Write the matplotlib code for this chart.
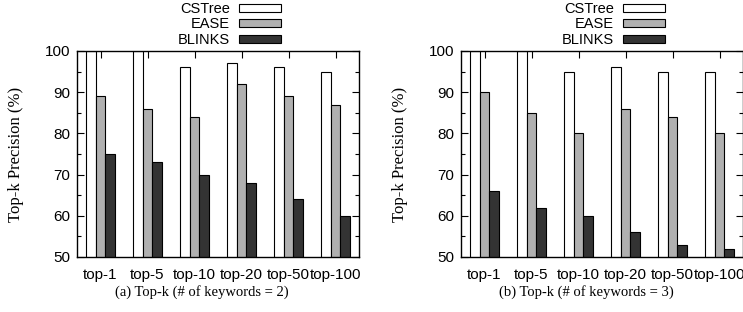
import matplotlib
matplotlib.use("Agg")
import matplotlib.pyplot as plt
from matplotlib.patches import Rectangle
from matplotlib.ticker import MultipleLocator
import numpy as np

categories = ["top-1", "top-5", "top-10", "top-20", "top-50", "top-100"]
series_names = ["CSTree", "EASE", "BLINKS"]
kw2_cstree = [100, 100, 96, 97, 96, 95]
kw2_ease = [89, 86, 84, 92, 89, 87]
kw2_blinks = [75, 73, 70, 68, 64, 60]
kw3_cstree = [100, 100, 95, 96, 95, 95]
kw3_ease = [90, 85, 80, 86, 84, 80]
kw3_blinks = [66, 62, 60, 56, 53, 52]
captions = ["(a) Top-k (# of keywords = 2)", "(b) Top-k (# of keywords = 3)"]
ylabel = "Top-k Precision (%)"

colors = ["#ffffff", "#b0b0b0", "#333333"]
edge = "#000000"
sans = ["Liberation Sans", "DejaVu Sans"]
serif = ["Liberation Serif", "DejaVu Serif"]

W, H = 743, 312
fig = plt.figure(figsize=(W / 100, H / 100), dpi=100)

def fx(px):
    return px / W

def fy(py):
    return 1 - py / H

panels = [
    (77, (kw2_cstree, kw2_ease, kw2_blinks), captions[0], 178),
    (461, (kw3_cstree, kw3_ease, kw3_blinks), captions[1], 562),
]
ax_w = 282
ax_top, ax_bot = 51, 257

for left, data, cap, leg_x in panels:
    ax = fig.add_axes([fx(left), fy(ax_bot), ax_w / W, (ax_bot - ax_top) / H])
    x = np.arange(len(categories))
    bw = 0.2
    for i, vals in enumerate(data):
        ax.bar(x + (i - 1) * bw, vals, width=bw, bottom=0, color=colors[i],
               edgecolor=edge, linewidth=0.8, zorder=2)
    ax.set_xlim(-0.5, len(categories) - 0.5)
    ax.set_ylim(50, 100)
    ax.set_xticks(x)
    ax.set_xticklabels(categories, family=sans, fontsize=11)
    ax.yaxis.set_major_locator(MultipleLocator(10))
    ax.yaxis.set_minor_locator(MultipleLocator(5))
    for lab in ax.get_yticklabels():
        lab.set_family(sans)
        lab.set_fontsize(11)
    ax.tick_params(axis="y", which="both", direction="in", left=True, right=True, pad=5)
    ax.tick_params(axis="y", which="major", length=5, width=0.8)
    ax.tick_params(axis="y", which="minor", length=3, width=0.8)
    ax.tick_params(axis="x", which="major", direction="in", top=True, bottom=False,
                   length=5, width=0.8, pad=8)
    for s in ax.spines.values():
        s.set_linewidth(1.0)
    ax.set_ylabel(ylabel, family=serif, fontsize=12)
    ax.yaxis.set_label_coords(-(77 - 24) / ax_w, 0.5)
    # caption
    fig.text(fx(left + ax_w / 2 - 16), fy(292), cap, family=serif, fontsize=10.5,
             ha="center", va="center")
    # legend
    handles = [Rectangle((0, 0), 1, 1, facecolor=colors[i], edgecolor=edge, linewidth=0.8)
               for i in range(3)]
    leg = fig.legend(handles, series_names, loc="upper left",
                     bbox_to_anchor=(fx(leg_x), fy(2)), frameon=False, markerfirst=False,
                     prop={"family": sans, "size": 10.5}, handlelength=2.9, handleheight=0.5,
                     labelspacing=0.1, borderpad=0.0, handletextpad=0.6, borderaxespad=0)
    for t in leg.get_texts():
        t.set_ha("right")

fig.savefig("out.png", dpi=100)
